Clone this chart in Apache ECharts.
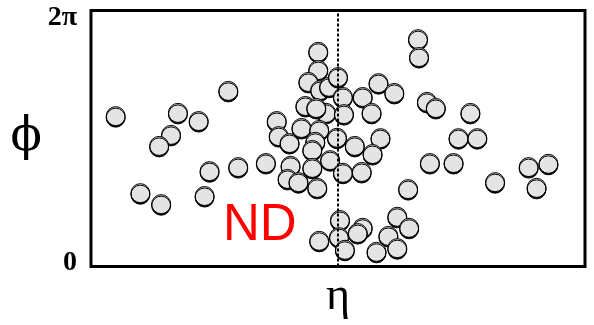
<!DOCTYPE html>
<html>
<head>
<meta charset="utf-8">
<script src="https://cdn.jsdelivr.net/npm/echarts@6/dist/echarts.min.js"></script>
<style>
  html, body { margin: 0; padding: 0; background: #fff; }
  #chart { width: 594px; height: 325px; }
</style>
</head>
<body>
<div id="chart"></div>
<script>
    // pseudorapidity of each particle
    var etaValues = [
        -2.25, -1.11, -1.62, -1.41, -1.69, -1.81, -1.30, -1.01, -0.73, -2.00, -1.79, -1.35,
        -0.62, -0.60, -0.49, -0.48, -0.51, -0.40,
        -0.20, -0.20, -0.30, -0.18, -0.09, 0.00,
        -0.33, -0.12, -0.22, -0.37, -0.19, -0.23, -0.01,
        -0.26, -0.08, -0.26, -0.21,
        0.05, 0.25, 0.41, 0.57, 0.06, 0.34, 0.17, 0.43, 0.35, 0.05, 0.24,
        0.71, 0.81, 0.82, 0.90, 0.99, 1.34, 1.22, 1.41, 0.93, 1.17, 1.59, 1.93, 2.13, 2.01,
        -0.19, 0.02, 0.01, 0.07, 0.25, 0.20, 0.60, 0.72, 0.51, 0.39, 0.60
    ];
    // azimuth of each particle
    var phiValues = [
        3.69, 4.31, 3.77, 3.57, 3.23, 2.96, 2.34, 2.44, 2.54, 1.80, 1.53, 1.73,
        3.57, 3.20, 3.03, 2.47, 2.15, 2.07,
        5.27, 4.82, 4.53, 4.33, 4.41, 4.65,
        3.94, 3.77, 3.89, 3.40, 3.35, 3.06, 3.16,
        2.86, 2.61, 2.42, 1.93,
        4.16, 4.16, 4.50, 4.26, 3.74, 3.77, 2.96, 3.15, 2.76, 2.30, 2.32,
        1.90, 5.58, 5.14, 4.04, 3.89, 3.77, 3.15, 3.15, 2.54, 2.54, 2.07, 2.44, 2.52, 1.93,
        0.63, 1.14, 0.72, 0.41, 0.95, 0.82, 1.22, 0.95, 0.75, 0.36, 0.45
    ];
    var phiTickLabels = ['0', '2π'];
    var etaName = 'η';
    var phiName = 'ϕ';
    var tagText = 'ND';

    var points = etaValues.map(function (e, i) { return [e, phiValues[i]]; });
    var TWO_PI = Math.PI * 2;

    var myChart = echarts.init(document.getElementById('chart'), null, { renderer: 'canvas' });

    var option = {
        animation: false,
        backgroundColor: '#fff',
        grid: {
            show: true,
            left: 91, right: 9, top: 10.5, bottom: 58.5,
            borderColor: '#000', borderWidth: 3,
            backgroundColor: 'transparent'
        },
        xAxis: {
            type: 'value',
            min: -2.5, max: 2.5,
            name: etaName,
            nameLocation: 'middle',
            nameGap: 7,
            nameTextStyle: { fontFamily: 'Liberation Serif', fontSize: 46, color: '#000' },
            axisLine: { show: false },
            axisTick: { show: false },
            axisLabel: { show: false },
            splitLine: { show: false }
        },
        yAxis: {
            type: 'value',
            min: 0, max: TWO_PI, interval: TWO_PI,
            name: phiName,
            nameLocation: 'middle',
            nameRotate: 0,
            nameGap: 45,
            nameTextStyle: {
                fontFamily: 'DejaVu Serif', fontSize: 46, color: '#000',
                padding: [0, 0, 28, 0]
            },
            axisLine: { show: false },
            axisTick: { show: false },
            splitLine: { show: false },
            axisLabel: {
                show: true,
                showMinLabel: true,
                showMaxLabel: true,
                margin: 14,
                formatter: function (v, i) {
                    return i === 0 ? '{b|' + phiTickLabels[0] + '}' : '{t|' + phiTickLabels[1] + '}';
                },
                rich: {
                    t: { fontFamily: 'Liberation Serif', fontWeight: 'bold', fontSize: 28, color: '#000', padding: [14, 0, 0, 0] },
                    b: { fontFamily: 'Liberation Serif', fontWeight: 'bold', fontSize: 28, color: '#000', padding: [0, 0, 8, 0] }
                }
            }
        },
        graphic: [{
            type: 'text',
            x: 223, y: 226,
            z: 10,
            style: {
                text: tagText,
                fill: '#ff0000',
                fontFamily: 'Liberation Sans',
                fontSize: 51,
                verticalAlign: 'middle'
            }
        }],
        series: [{
            type: 'scatter',
            data: points,
            symbol: 'circle',
            symbolSize: 19,
            itemStyle: {
                color: '#e4e4e4',
                borderColor: '#000',
                borderWidth: 1,
                opacity: 1,
                shadowColor: '#000',
                shadowBlur: 0,
                shadowOffsetY: 1.5
            },
            emphasis: { disabled: true },
            markLine: {
                silent: true,
                symbol: ['none', 'none'],
                label: { show: false },
                lineStyle: { color: '#000', width: 2, type: [3, 2] },
                data: [{ xAxis: 0 }]
            }
        }]
    };

    myChart.setOption(option);
    window.addEventListener('resize', myChart.resize);
</script>
</body>
</html>
